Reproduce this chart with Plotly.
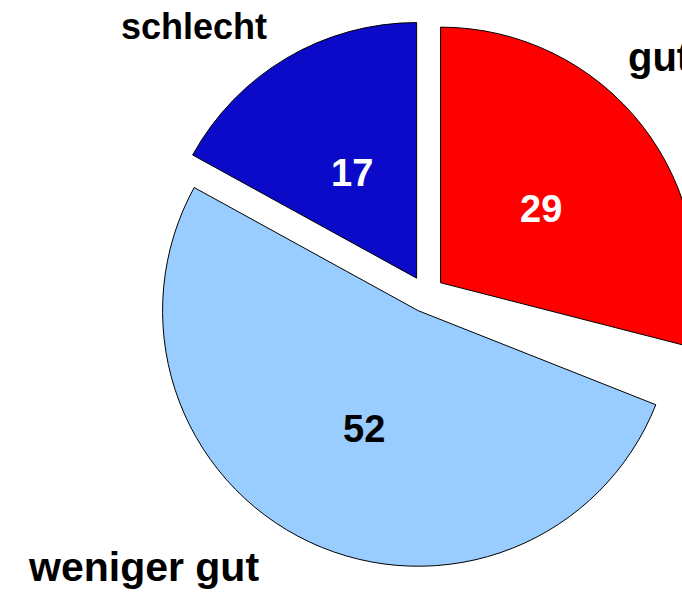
import math
import plotly.graph_objects as go

# the shares add up to 98; the missing 2 % ("keine Angabe") stays an empty wedge
categories = ["gut", "keine Angabe", "weniger gut", "schlecht"]
values = [29, 2, 52, 17]
colors = ["#FF0000", "rgba(0,0,0,0)", "#99CCFF", "#0A0AC8"]
line_widths = [1, 0, 1, 1]
text_colors = ["white", None, "black", "white"]
shown = [True, False, True, True]

# page offset of the plot div (body margin removed below)
OFF = 0
W, H = 700, 592
L, R, T, B = 152, 0, 20, 24
PW, PH = W - L - R, H - T - B
PULL = 0.072
RADIUS = min(PW, PH) / (2 * (1 + PULL))
CX, CY = L + PW / 2, T + PH / 2


def px(x):  # page pixel -> paper
    return (x - OFF - L) / PW


def py(y):
    return 1 - (y - OFF - T) / PH


fig = go.Figure(
    go.Pie(
        labels=categories,
        values=values,
        sort=False,
        direction="clockwise",
        rotation=0,
        pull=[PULL] * len(values),
        marker=dict(colors=colors, line=dict(color="black", width=line_widths)),
        textinfo="none",
        showlegend=False,
        hoverinfo="label+value",
    )
)

# value labels placed along each slice's bisector
total = sum(values)
cum = 0
for v, c, s in zip(values, text_colors, shown):
    mid = (cum + v / 2) / total * 2 * math.pi
    cum += v
    if not s:
        continue
    d = (PULL + 0.495) * RADIUS
    fx = CX + d * math.sin(mid)
    fy = CY - d * math.cos(mid) + 4
    fig.add_annotation(
        x=(fx - L) / PW, y=1 - (fy - T) / PH, xref="paper", yref="paper",
        text=f"<b>{v}</b>", showarrow=False, xanchor="center", yanchor="middle",
        font=dict(family="Liberation Sans", size=38, color=c),
    )

label_pos = {
    "schlecht": (194, 26, "center", 36),
    "gut": (626, 57, "left", 40),
    "weniger gut": (143.5, 567, "center", 41),
}
for name, (x, y, anchor, fs) in label_pos.items():
    fig.add_annotation(
        x=px(x), y=py(y), xref="paper", yref="paper",
        text=f"<b>{name}</b>", showarrow=False,
        xanchor=anchor, yanchor="middle",
        font=dict(family="Liberation Sans", size=fs, color="black"),
    )

fig.update_layout(
    width=W, height=H,
    margin=dict(l=L, r=R, t=T, b=B, autoexpand=False),
    paper_bgcolor="white", plot_bgcolor="white",
)

fig.write_html(
    "out.html",
    config={"displayModeBar": False},
    post_script="document.body.style.margin='0';"
                "document.documentElement.style.overflow='hidden';"
                "document.body.style.overflow='hidden';",
)
